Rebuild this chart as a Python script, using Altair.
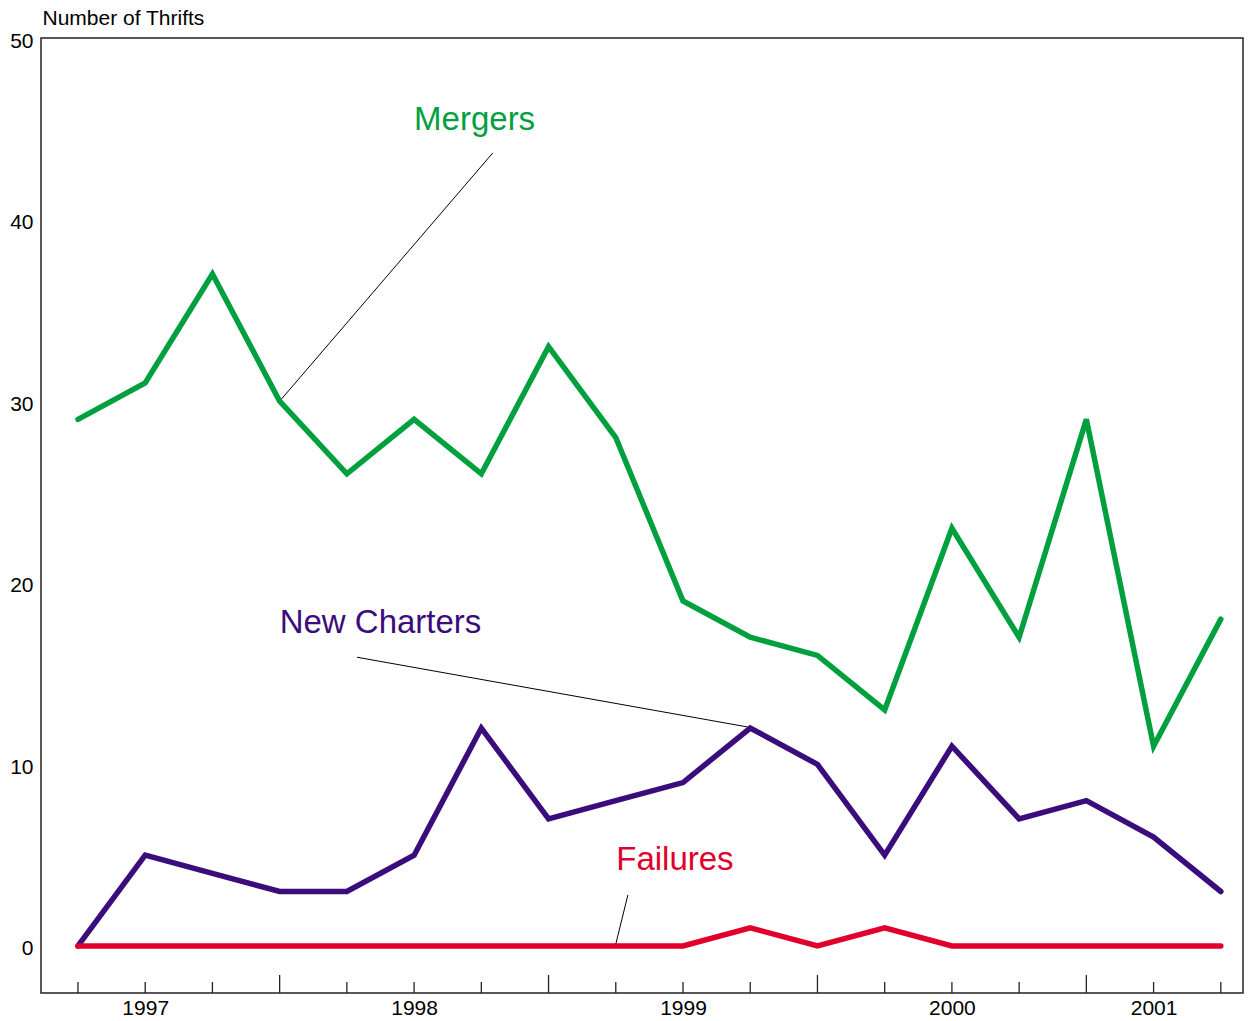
import altair as alt
import pandas as pd

# Quarterly counts of thrift institutions, 1996 Q4 through 2001 Q1
quarter_index = list(range(18))
mergers = [29, 31, 37, 30, 26, 29, 26, 33, 28, 19, 17, 16, 13, 23, 17, 29, 11, 18]
new_charters = [0, 5, 4, 3, 3, 5, 12, 7, 8, 9, 12, 10, 5, 11, 7, 8, 6, 3]
failures = [0, 0, 0, 0, 0, 0, 0, 0, 0, 0, 1, 0, 1, 0, 0, 0, 0, 0]

year_tick_index = [1, 5, 9, 13, 16]
year_labels = ["1997", "1998", "1999", "2000", "2001"]

series_names = ["Mergers", "New Charters", "Failures"]
series_colors = ["#00A03F", "#3A0C7C", "#E0002B"]

W, H = 1202, 955
X_DOMAIN = [-0.55, 17.33]
Y_DOMAIN = [-2.59, 50]

rows = []
for name, vals in zip(series_names, [mergers, new_charters, failures]):
    for i, v in zip(quarter_index, vals):
        rows.append({"q": i, "value": v, "series": name})
df = pd.DataFrame(rows)

label_map = "{" + ",".join(f"'{i}':'{l}'" for i, l in zip(year_tick_index, year_labels)) + "}"

x_scale = alt.Scale(domain=X_DOMAIN, nice=False, zero=False)
y_scale = alt.Scale(domain=Y_DOMAIN, nice=False, zero=False)

x_axis = alt.Axis(
    values=year_tick_index,
    labelExpr=f"{label_map}[''+datum.value]",
    ticks=False, domain=False, grid=False,
    labelFontSize=21, labelPadding=4, labelColor="#000",
    labelFont="Liberation Sans", title=None,
)
y_axis = alt.Axis(
    values=[0, 10, 20, 30, 40, 50],
    ticks=False, domain=False, grid=False,
    labelFontSize=21, labelPadding=8, labelColor="#000",
    labelFont="Liberation Sans", labelOffset=3,
    title="Number of Thrifts", titleAngle=0, titleAlign="left",
    titleBaseline="alphabetic", titleX=1, titleY=-14,
    titleFontSize=21, titleFontWeight="normal", titleColor="#000",
    titleFont="Liberation Sans",
)

color_scale = alt.Scale(domain=series_names, range=series_colors)

lines = alt.Chart(df).mark_line(strokeWidth=5.5, strokeCap="round", strokeJoin="miter").encode(
    x=alt.X("q:Q", scale=x_scale, axis=x_axis),
    y=alt.Y("value:Q", scale=y_scale, axis=y_axis),
    color=alt.Color("series:N", scale=color_scale, legend=None),
    detail="series:N",
)

# Quarter ticks rising from the bottom frame; year-end quarters get longer ticks
tick_df = pd.DataFrame({"q": quarter_index})
short_ticks = alt.Chart(tick_df).transform_filter("datum.q % 4 != 3").mark_rule(
    color="#222", strokeWidth=1.3
).encode(x=alt.X("q:Q", scale=x_scale), y=alt.value(H), y2=alt.value(H - 11))
long_ticks = alt.Chart(tick_df).transform_filter("datum.q % 4 == 3").mark_rule(
    color="#222", strokeWidth=1.3
).encode(x=alt.X("q:Q", scale=x_scale), y=alt.value(H), y2=alt.value(H - 18))

# Series labels with leader lines to their lines
label_df = pd.DataFrame({
    "series": series_names,
    "tx": [5.9, 4.5, 8.88],
    "ty": [45.5, 17.8, 4.75],
    "lx": [6.17, 4.15, 8.18],
    "ly": [43.67, 15.9, 2.81],
    "ex": [3.0, 9.96, 8.0],
    "ey": [30.0, 12.06, 0.1],
})
labels = alt.Chart(label_df).mark_text(
    fontSize=33, font="Liberation Sans", align="center", baseline="middle"
).encode(
    x=alt.X("tx:Q", scale=x_scale),
    y=alt.Y("ty:Q", scale=y_scale),
    text="series:N",
    color=alt.Color("series:N", scale=color_scale, legend=None),
)
leaders = alt.Chart(label_df).mark_rule(color="#000", strokeWidth=1).encode(
    x=alt.X("lx:Q", scale=x_scale),
    y=alt.Y("ly:Q", scale=y_scale),
    x2="ex:Q",
    y2="ey:Q",
)

chart = alt.layer(short_ticks, long_ticks, leaders, lines, labels).properties(
    width=W, height=H,
    autosize=alt.AutoSizeParams(type="none"),
    padding={"left": 41, "top": 38, "right": 9, "bottom": 28},
    background="white",
).configure_view(stroke="#222", strokeWidth=1.5)

chart.save("out.html", embed_options={"renderer": "svg", "actions": False})
